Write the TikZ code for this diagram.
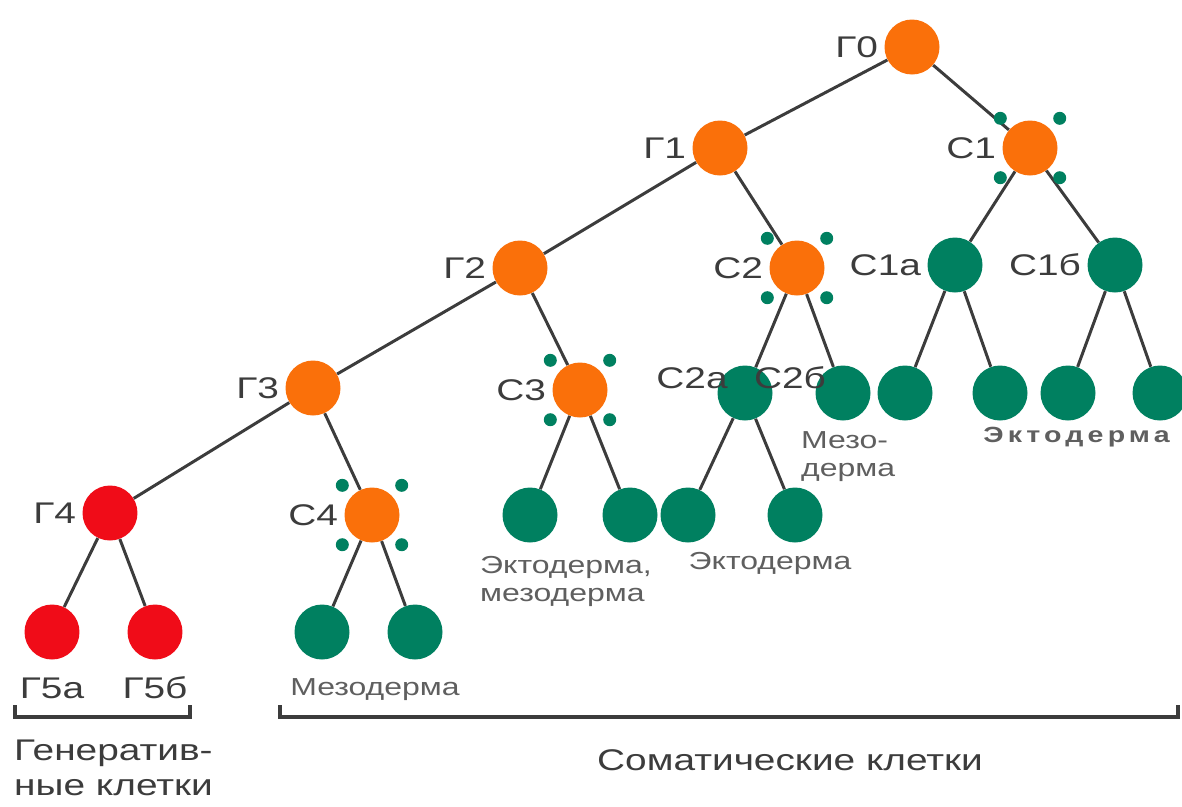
\documentclass[tikz,border=0pt]{standalone}
\usepackage{fontspec}
\setmainfont{Liberation Sans}[FakeStretch=1.3]
\definecolor{cellorange}{RGB}{250,112,10}
\definecolor{cellgreen}{RGB}{0,128,96}
\definecolor{cellred}{RGB}{240,12,24}
\definecolor{inkgray}{RGB}{60,60,60}
\definecolor{notegray}{RGB}{95,95,95}
\newcommand{\bigtext}{\fontsize{17}{17}\selectfont}
\newcommand{\smalltext}{\fontsize{14}{16}\selectfont}

\begin{document}
\begin{tikzpicture}[x=0.02cm, y=-0.02cm,
    every node/.style={font=\bigtext, text=inkgray},
    cell/.style={circle, minimum size=1.1cm, inner sep=0pt},
    orange/.style={cell, fill=cellorange},
    green/.style={cell, fill=cellgreen},
    red/.style={cell, fill=cellred},
    tag/.style={label={[label distance=0pt]left:#1}},
    note/.style={font=\smalltext, text=notegray, align=left},
    link/.style={draw=inkgray, line width=1.7pt},
    bracket/.style={draw=inkgray, line width=2.2pt}]
    \useasboundingbox (0,0) rectangle (1182,806);

    % germ line
    \node[orange, tag=Г0] (g0) at (912,47) {};
    \node[orange, tag=Г1] (g1) at (720,148) {};
    \node[orange, tag=Г2] (g2) at (520,268) {};
    \node[orange, tag=Г3] (g3) at (313,388) {};
    \node[red, tag=Г4] (g4) at (110,513) {};
    \node[red] (g5a) at (52,632) {};
    \node[red] (g5b) at (155,632) {};

    % somatic line
    \node[orange, tag=С1] (c1) at (1030,148) {};
    \node[orange, tag=С2] (c2) at (797,268) {};
    \node[orange, tag=С3] (c3) at (580,390) {};
    \node[orange, tag=С4] (c4) at (372,515) {};
    \node[green, tag=С1а] (c1a) at (955,265) {};
    \node[green, tag=С1б] (c1b) at (1115,265) {};
    \node[green] (c2a) at (745,393) {};
    \node[green] (c2b) at (843,393) {};
    \node (t2a) at (692,378) {С2а};
    \node (t2b) at (790,378) {С2б};

    % leaves
    \node[green] (c1a1) at (905,393) {};
    \node[green] (c1a2) at (1000,393) {};
    \node[green] (c1b1) at (1068,393) {};
    \node[green] (c1b2) at (1160,393) {};
    \node[green] (c31) at (530,515) {};
    \node[green] (c32) at (630,515) {};
    \node[green] (c2a1) at (688,515) {};
    \node[green] (c2a2) at (795,515) {};
    \node[green] (c41) at (322,632) {};
    \node[green] (c42) at (415,632) {};

    \draw[link] (g0) -- (g1) (g0) -- (c1);
    \draw[link] (g1) -- (g2) (g1) -- (c2);
    \draw[link] (g2) -- (g3) (g2) -- (c3);
    \draw[link] (g3) -- (g4) (g3) -- (c4);
    \draw[link] (g4) -- (g5a) (g4) -- (g5b);
    \draw[link] (c1) -- (c1a) (c1) -- (c1b);
    \draw[link] (c2) -- (c2a) (c2) -- (c2b);
    \draw[link] (c1a) -- (c1a1) (c1a) -- (c1a2);
    \draw[link] (c1b) -- (c1b1) (c1b) -- (c1b2);
    \draw[link] (c3) -- (c31) (c3) -- (c32);
    \draw[link] (c2a) -- (c2a1) (c2a) -- (c2a2);
    \draw[link] (c4) -- (c41) (c4) -- (c42);

    % small dots round dividing cells
    \foreach \c in {c1,c2,c3,c4}
      \foreach \a in {45,135,225,315}
        \fill[cellgreen] (\c) ++(\a:42) circle (6.5);

    % layer names
    \node[note, anchor=north west] (meso1) at (795,425) {Мезо-\\дерма};
    \node[note, anchor=east, font=\fontsize{12.5}{14}\selectfont\bfseries] (ecto1) at (1176,437) {\addfontfeature{LetterSpace=19}Эктодерма};
    \node[note, anchor=north west] (ecto2) at (474,550) {Эктодерма,\\мезодерма};
    \node[note] (ecto3) at (770,563) {Эктодерма};
    \node[note] (meso2) at (375,690) {Мезодерма};
    \node (t5a) at (52,688) {Г5а};
    \node (t5b) at (155,688) {Г5б};

    % brackets
    \coordinate (b1l) at (15,705);
    \coordinate (b1r) at (190,705);
    \coordinate (b2l) at (280,705);
    \coordinate (b2r) at (1178,705);
    \draw[bracket] (b1l) -- ++(0,12) -| (b1r);
    \draw[bracket] (b2l) -- ++(0,12) -| (b2r);
    \node[anchor=north west, align=left, font=\fontsize{17}{20}\selectfont] (gen) at (8,734) {Генератив-\\ные клетки};
    \node (som) at (790,760) {Соматические клетки};
\end{tikzpicture}
\end{document}
